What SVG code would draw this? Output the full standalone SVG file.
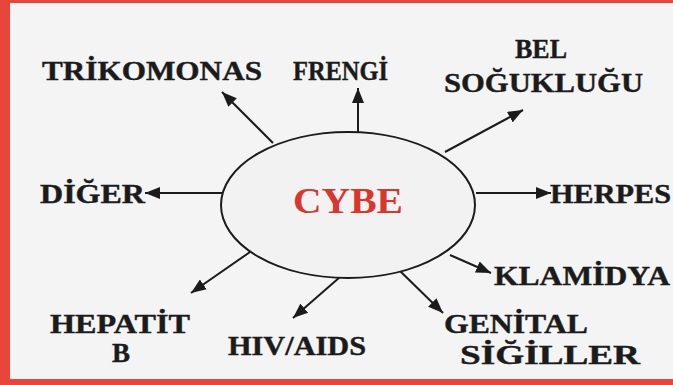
<svg xmlns="http://www.w3.org/2000/svg" width="673" height="385" viewBox="0 0 673 385">
<style>
.lbl{font-family:"Liberation Serif","Times New Roman","DejaVu Serif",serif;font-weight:bold;font-size:27px;fill:#1b1b1b;stroke:#1b1b1b;stroke-width:0.4}
.ctr{font-family:"Liberation Serif","Times New Roman","DejaVu Serif",serif;font-weight:bold;font-size:35px;fill:#d8372e}
.con{stroke:#1b1b1b;stroke-width:2;fill:none;marker-end:url(#ah)}
</style>
<defs>
<marker id="ah" markerWidth="16" markerHeight="12" refX="15" refY="6" orient="auto" markerUnits="userSpaceOnUse">
<path d="M0,0 L15,6 L0,12 z" fill="#1b1b1b"/>
</marker>
</defs>
<rect x="0" y="0" width="673" height="385" fill="#f4f4f4"/>
<rect x="0" y="0" width="673" height="3" fill="#e8463c"/>
<rect x="0" y="379" width="673" height="6" fill="#e8463c"/>
<rect x="0" y="0" width="10" height="385" fill="#e8463c"/>
<g id="connectors">
<line class="con" x1="273" y1="143" x2="222" y2="92"/>
<line class="con" x1="358" y1="132" x2="358" y2="88"/>
<line class="con" x1="445" y1="152" x2="523" y2="110"/>
<line class="con" x1="222" y1="193" x2="145" y2="193"/>
<line class="con" x1="476" y1="193" x2="551" y2="193"/>
<line class="con" x1="450" y1="255" x2="491" y2="273"/>
<line class="con" x1="400" y1="271" x2="443" y2="313"/>
<line class="con" x1="340" y1="277" x2="293" y2="318"/>
<line class="con" x1="250" y1="252" x2="191" y2="293"/>
</g>
<g id="cybe">
<ellipse cx="348" cy="205" rx="127" ry="73" fill="#f2f2f2" stroke="#1b1b1b" stroke-width="2"/>
<text class="ctr" x="293" y="213" textLength="110" lengthAdjust="spacingAndGlyphs">CYBE</text>
</g>
<g id="trikomonas"><text class="lbl" x="42" y="80" textLength="220" lengthAdjust="spacingAndGlyphs">TRİKOMONAS</text></g>
<g id="frengi"><text class="lbl" x="293" y="80" textLength="95" lengthAdjust="spacingAndGlyphs">FRENGİ</text></g>
<g id="bel"><text class="lbl" x="515" y="58" textLength="52" lengthAdjust="spacingAndGlyphs">BEL</text>
<text class="lbl" x="444" y="92" textLength="199" lengthAdjust="spacingAndGlyphs">SOĞUKLUĞU</text></g>
<g id="diger"><text class="lbl" x="40" y="203" textLength="105" lengthAdjust="spacingAndGlyphs">DİĞER</text></g>
<g id="herpes"><text class="lbl" x="550" y="203" textLength="121" lengthAdjust="spacingAndGlyphs">HERPES</text></g>
<g id="klamidya"><text class="lbl" x="494" y="285" textLength="176" lengthAdjust="spacingAndGlyphs">KLAMİDYA</text></g>
<g id="hepatit"><text class="lbl" x="50" y="333" textLength="140" lengthAdjust="spacingAndGlyphs">HEPATİT</text>
<text class="lbl" x="112" y="362" textLength="18" lengthAdjust="spacingAndGlyphs">B</text></g>
<g id="hiv"><text class="lbl" x="228" y="355" textLength="138" lengthAdjust="spacingAndGlyphs">HIV/AIDS</text></g>
<g id="genital"><text class="lbl" x="444" y="333" textLength="144" lengthAdjust="spacingAndGlyphs">GENİTAL</text>
<text class="lbl" x="460" y="364" textLength="180" lengthAdjust="spacingAndGlyphs">SİĞİLLER</text></g>
</svg>
